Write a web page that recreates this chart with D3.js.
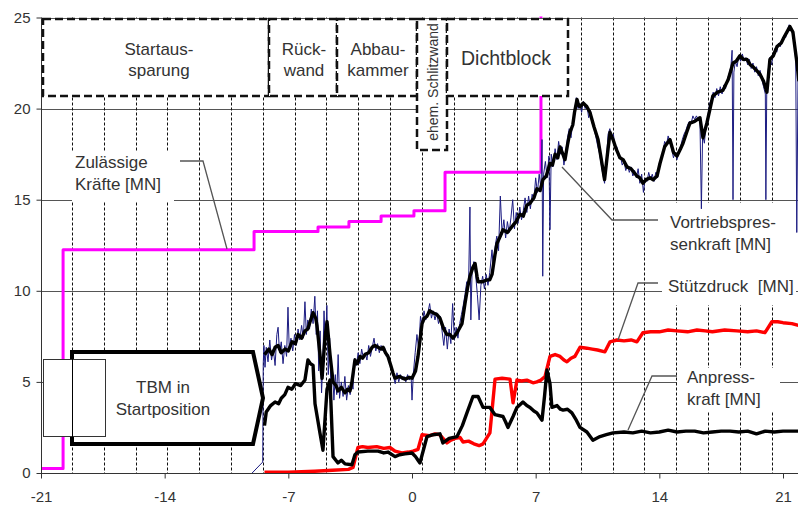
<!DOCTYPE html>
<html>
<head>
<meta charset="utf-8">
<script src="https://cdn.jsdelivr.net/npm/d3@7"></script>
<style>
  body { margin: 0; background: #fff; }
  text { font-family: "Liberation Sans", Arial, sans-serif; fill: #333; }
</style>
</head>
<body>
<svg width="798" height="506"></svg>
<script>
// axis ticks
const xTicks = [-21, -14, -7, 0, 7, 14, 21];
const yTicks = [0, 5, 10, 15, 20, 25];

// ring joints (dashed verticals)
const ringLines = [-19.24, -17.44, -15.64, -13.84, -12.04, -10.24, -8.44, -6.64, -4.84, -3.04,
  -1.24, 0.56, 2.36, 4.16, 5.96, 7.76, 9.56, 11.36, 13.16, 14.96, 16.76, 18.56, 20.36];

// Zulässige Kräfte [MN] (step line)
const allowed = [[-21, 0.25], [-19.75, 12.25], [-8.94, 13.25], [-5.32, 13.5], [-3.57, 13.8],
  [-1.75, 14.1], [0.11, 14.4], [1.87, 16.5], [7.3, 26]];

// Vortriebspressenkraft [MN], smoothed
const thrust = [[-8.35, 6.5], [-8.1, 6.8], [-7.92, 6.5], [-7.75, 6.9], [-7.58, 7.0], [-7.4, 6.6],
  [-7.19, 6.8], [-7.0, 6.7], [-6.79, 7.2], [-6.6, 7.1], [-6.45, 7.6], [-6.25, 7.4], [-6.06, 7.8],
  [-5.9, 7.9], [-5.77, 8.3], [-5.6, 8.8], [-5.45, 8.5], [-5.38, 8.1], [-5.21, 6.5], [-5.09, 5.2],
  [-4.92, 7.5], [-4.81, 8.3], [-4.64, 6.5], [-4.47, 5.0], [-4.3, 4.8], [-4.19, 4.5], [-4.0, 4.7],
  [-3.79, 4.4], [-3.65, 4.6], [-3.51, 4.5], [-3.4, 5.0], [-3.23, 6.2], [-3.1, 6.0], [-2.94, 6.4],
  [-2.8, 6.3], [-2.66, 6.5], [-2.45, 6.6], [-2.26, 6.9], [-2.1, 7.0], [-1.92, 6.9], [-1.75, 6.8],
  [-1.64, 6.9], [-1.5, 6.6], [-1.36, 6.4], [-1.2, 5.9], [-1.08, 5.5], [-0.96, 5.2], [-0.7, 5.3],
  [-0.4, 5.15], [-0.15, 5.25], [0, 5.2], [0.2, 5.6], [0.34, 6.4], [0.57, 8.2], [0.7, 8.5],
  [0.85, 8.6], [1.0, 8.9], [1.19, 8.8], [1.4, 8.7], [1.58, 8.5], [1.8, 7.9], [1.98, 7.6], [2.15, 7.6],
  [2.32, 7.4], [2.55, 7.7], [2.83, 8.2], [3.0, 9.3], [3.15, 10.2], [3.28, 10.8], [3.45, 11.3],
  [3.57, 11.5], [3.68, 10.8], [3.74, 10.5], [4.0, 10.5], [4.24, 10.6], [4.4, 10.6], [4.53, 10.9],
  [4.7, 12.0], [4.81, 12.6], [5.0, 13.0], [5.15, 13.35], [5.4, 13.2], [5.72, 13.6], [5.9, 13.8],
  [6.11, 14.2], [6.3, 14.1], [6.5, 14.7], [6.68, 14.8], [6.9, 15.1], [7.07, 15.6], [7.25, 15.5],
  [7.41, 16.1], [7.6, 16.3], [7.81, 17.0], [7.95, 16.9], [8.1, 17.5], [8.25, 17.3], [8.38, 17.9],
  [8.5, 17.6], [8.66, 17.2], [8.8, 18.0], [8.94, 18.7], [9.1, 19.1], [9.2, 19.8], [9.34, 20.5],
  [9.42, 20.2], [9.51, 20.1], [9.7, 20.3], [9.9, 20.1], [10.07, 19.8], [10.3, 19.0], [10.53, 18.3],
  [10.7, 17.3], [10.9, 16.1], [11.05, 17.4], [11.21, 18.7], [11.38, 18.3], [11.55, 17.8],
  [11.77, 17.3], [11.95, 17.2], [12.17, 16.8], [12.4, 16.7], [12.73, 16.3], [12.9, 16.2],
  [13.07, 15.9], [13.25, 16.1], [13.47, 16.2], [13.65, 16.1], [13.87, 16.3], [14.04, 17.0],
  [14.3, 17.9], [14.6, 18.3], [14.8, 17.6], [15.0, 17.4], [15.2, 17.8], [15.34, 18.1], [15.55, 18.7],
  [15.73, 19.2], [16.0, 19.3], [16.3, 19.5], [16.47, 18.4], [16.69, 19.2], [16.85, 19.9],
  [17.03, 20.7], [17.3, 20.9], [17.6, 21.0], [17.9, 21.6], [18.17, 22.5], [18.35, 22.6],
  [18.56, 22.9], [18.75, 22.7], [18.96, 22.7], [19.15, 22.4], [19.3, 22.3], [19.5, 22.1],
  [19.69, 21.9], [19.9, 21.5], [20.09, 20.9], [20.26, 22.7], [20.45, 22.9], [20.66, 23.4],
  [20.9, 23.6], [21.05, 23.9], [21.22, 24.2], [21.39, 24.5], [21.56, 24.2], [21.79, 22.5],
  [21.9, 21.5]];

// Vortriebspressenkraft [MN], raw readings
const thrustRaw = [[-9.05, 0], [-8.45, 0.6], [-8.42, 6.0], [-8.38, 7.0], [-8.32, 5.8], [-8.25, 6.9],
  [-8.15, 6.1], [-8.05, 7.3], [-7.95, 6.2], [-7.85, 6.8], [-7.75, 5.9], [-7.65, 7.6], [-7.58, 8.0],
  [-7.5, 6.6], [-7.4, 7.2], [-7.3, 6.0], [-7.2, 7.0], [-7.1, 6.4], [-7.02, 9.1], [-6.95, 6.9],
  [-6.85, 7.4], [-6.75, 6.7], [-6.65, 7.6], [-6.55, 7.0], [-6.45, 7.9], [-6.35, 7.3], [-6.25, 8.1],
  [-6.15, 7.4], [-6.06, 9.4], [-5.98, 7.6], [-5.9, 8.4], [-5.8, 7.9], [-5.7, 9.0], [-5.6, 8.2],
  [-5.5, 9.7], [-5.42, 7.6], [-5.35, 8.9], [-5.28, 5.6], [-5.2, 7.8], [-5.12, 4.4], [-5.05, 6.0],
  [-4.98, 8.9], [-4.9, 6.8], [-4.82, 9.2], [-4.74, 5.4], [-4.66, 7.4], [-4.58, 4.2], [-4.5, 5.6],
  [-4.42, 4.0], [-4.34, 5.4], [-4.26, 4.3], [-4.18, 6.5], [-4.1, 4.1], [-4.0, 5.0], [-3.9, 4.2],
  [-3.8, 5.3], [-3.7, 4.0], [-3.6, 4.8], [-3.5, 4.3], [-3.42, 5.1], [-3.34, 4.6], [-3.25, 6.3],
  [-3.15, 5.9], [-3.05, 6.6], [-2.95, 6.0], [-2.85, 6.8], [-2.75, 6.3], [-2.65, 6.6], [-2.55, 6.2],
  [-2.45, 7.0], [-2.35, 6.4], [-2.25, 6.9], [-2.15, 7.4], [-2.05, 6.7], [-1.95, 7.1], [-1.85, 6.6],
  [-1.75, 7.0], [-1.65, 6.7], [-1.55, 6.9], [-1.45, 6.4], [-1.35, 6.5], [-1.25, 6.1], [-1.15, 5.7],
  [-1.05, 5.3], [-0.95, 4.9], [-0.85, 5.5], [-0.75, 5.0], [-0.65, 5.4], [-0.55, 5.1], [-0.45, 5.3],
  [-0.35, 5.0], [-0.25, 5.4], [-0.15, 5.1], [-0.05, 5.3], [0.0, 4.0], [0.08, 5.5], [0.18, 6.6],
  [0.28, 7.6], [0.38, 6.8], [0.48, 8.6], [0.58, 8.1], [0.68, 8.9], [0.78, 8.4], [0.9, 8.8],
  [1.0, 9.3], [1.1, 8.5], [1.2, 8.9], [1.3, 8.4], [1.4, 8.8], [1.5, 8.2], [1.6, 8.6], [1.7, 7.8],
  [1.8, 7.0], [1.9, 8.0], [2.0, 6.8], [2.1, 7.9], [2.2, 7.1], [2.3, 9.3], [2.4, 7.3], [2.5, 8.0],
  [2.6, 7.4], [2.7, 8.2], [2.8, 8.7], [2.9, 9.2], [3.0, 9.8], [3.1, 10.5], [3.2, 10.2], [3.28, 14.6],
  [3.33, 8.4], [3.4, 11.0], [3.5, 11.6], [3.6, 10.9], [3.7, 9.8], [3.8, 8.4], [3.9, 10.3],
  [4.0, 10.8], [4.1, 10.1], [4.2, 10.9], [4.3, 10.3], [4.4, 11.0], [4.53, 12.25], [4.6, 11.2],
  [4.7, 12.4], [4.8, 13.0], [4.9, 12.2], [5.0, 15.2], [5.1, 13.1], [5.2, 13.9], [5.3, 12.9],
  [5.4, 13.8], [5.5, 13.2], [5.6, 14.0], [5.7, 15.0], [5.8, 13.4], [5.9, 14.3], [6.0, 13.7],
  [6.1, 14.6], [6.2, 13.9], [6.3, 14.4], [6.4, 15.1], [6.5, 14.3], [6.6, 15.2], [6.7, 14.5],
  [6.8, 15.3], [6.9, 15.0], [7.0, 16.2], [7.1, 15.4], [7.2, 16.4], [7.3, 15.6], [7.36, 18.3],
  [7.4, 10.8], [7.45, 16.4], [7.55, 17.1], [7.65, 16.2], [7.75, 17.4], [7.81, 13.35], [7.88, 17.5],
  [7.98, 16.8], [8.1, 17.8], [8.2, 17.2], [8.3, 18.2], [8.4, 17.5], [8.5, 17.9], [8.6, 16.9],
  [8.7, 17.6], [8.8, 18.4], [8.9, 18.9], [9.0, 18.4], [9.1, 19.3], [9.2, 19.8], [9.3, 20.6],
  [9.4, 20.0], [9.5, 20.3], [9.6, 19.8], [9.7, 20.4], [9.8, 20.0], [9.9, 20.2], [10.0, 19.5],
  [10.1, 19.9], [10.2, 19.2], [10.3, 18.9], [10.4, 18.5], [10.5, 18.0], [10.6, 17.6], [10.7, 17.0],
  [10.8, 16.4], [10.9, 15.9], [11.0, 17.2], [11.1, 18.6], [11.2, 18.9], [11.3, 18.4], [11.4, 18.6],
  [11.5, 17.8], [11.6, 17.9], [11.7, 17.3], [11.8, 17.4], [11.9, 16.9], [12.0, 17.1], [12.1, 16.6],
  [12.2, 16.9], [12.3, 16.5], [12.4, 16.8], [12.5, 16.3], [12.6, 16.6], [12.7, 16.2], [12.8, 16.7],
  [12.9, 15.9], [13.0, 16.4], [13.1, 15.4], [13.2, 16.2], [13.3, 16.0], [13.4, 16.5], [13.5, 16.1],
  [13.6, 16.4], [13.7, 16.0], [13.8, 16.5], [13.9, 16.2], [14.0, 17.0], [14.1, 17.2], [14.2, 17.6],
  [14.3, 18.2], [14.4, 18.0], [14.5, 18.5], [14.6, 18.1], [14.7, 17.8], [14.8, 17.3], [14.9, 17.6],
  [15.0, 17.2], [15.1, 17.7], [15.2, 17.9], [15.3, 18.3], [15.4, 18.6], [15.5, 18.8], [15.6, 19.1],
  [15.7, 19.3], [15.8, 19.2], [15.9, 19.6], [16.0, 19.4], [16.1, 19.6], [16.2, 19.4], [16.3, 19.3],
  [16.38, 14.5], [16.45, 18.6], [16.55, 18.1], [16.65, 19.2], [16.75, 19.6], [16.85, 20.3],
  [16.95, 20.5], [17.05, 20.9], [17.15, 20.6], [17.25, 21.1], [17.35, 20.7], [17.45, 21.2],
  [17.55, 20.8], [17.65, 21.3], [17.75, 21.1], [17.85, 21.6], [17.95, 21.9], [18.05, 22.3],
  [18.12, 23.2], [18.17, 15.0], [18.22, 22.0], [18.3, 22.6], [18.4, 22.3], [18.5, 22.9],
  [18.6, 22.6], [18.7, 23.0], [18.8, 22.6], [18.9, 22.8], [19.0, 22.4], [19.1, 22.7], [19.2, 22.2],
  [19.3, 22.5], [19.4, 22.0], [19.5, 22.3], [19.6, 21.8], [19.7, 22.1], [19.8, 21.6], [19.9, 21.2],
  [20.0, 20.8], [20.03, 15.0], [20.08, 20.9], [20.15, 22.0], [20.25, 22.8], [20.35, 22.4],
  [20.45, 23.0], [20.55, 23.3], [20.65, 23.1], [20.75, 23.6], [20.85, 23.4], [20.95, 23.8],
  [21.05, 24.0], [21.15, 23.9], [21.25, 24.3], [21.35, 24.6], [21.45, 24.4], [21.55, 24.1],
  [21.65, 23.6], [21.72, 22.6], [21.78, 13.2], [21.85, 21.8]];

// Stützdruck [MN]
const support = [[-8.35, 0.05], [-7, 0.05], [-5.5, 0.1], [-4.5, 0.15], [-3.6, 0.2], [-3.34, 0.3],
  [-3.06, 1.4], [-2.8, 1.45], [-2.5, 1.4], [-2.0, 1.45], [-1.6, 1.35], [-1.25, 1.4], [-0.96, 1.2],
  [-0.57, 1.1], [-0.2, 1.15], [0.06, 1.2], [0.34, 1.3], [0.57, 2.1], [1.0, 2.05], [1.3, 2.15],
  [1.58, 2.1], [1.98, 1.65], [2.2, 1.8], [2.43, 1.9], [2.72, 1.95], [2.89, 1.7], [3.2, 1.75],
  [3.5, 1.6], [3.8, 1.5], [4.02, 1.6], [4.41, 2.2], [4.7, 5.15], [5.1, 5.2], [5.55, 5.15],
  [5.72, 3.85], [5.94, 5.1], [6.2, 5.05], [6.5, 5.1], [6.85, 4.95], [7.07, 5.0], [7.3, 5.1],
  [7.53, 5.3], [7.81, 6.4], [8.1, 6.5], [8.38, 6.4], [8.6, 6.2], [8.77, 6.1], [9.0, 6.3],
  [9.22, 6.4], [9.51, 6.9], [9.9, 6.85], [10.2, 6.8], [10.5, 6.75], [10.92, 6.65], [11.21, 7.2],
  [11.6, 7.3], [12.0, 7.25], [12.4, 7.3], [12.73, 7.2], [13.07, 7.7], [13.5, 7.75], [14.0, 7.75],
  [14.5, 7.85], [15.0, 7.8], [15.6, 7.75], [16.13, 7.85], [16.6, 7.8], [17.0, 7.75], [17.7, 7.85],
  [18.39, 7.8], [19.0, 7.75], [19.5, 7.8], [19.98, 7.7], [20.37, 8.3], [20.7, 8.3], [21.0, 8.25],
  [21.5, 8.2], [21.9, 8.1]];

// Anpresskraft [MN]
const contact = [[-8.35, 2.6], [-8.25, 3.35], [-8.0, 3.7], [-7.75, 3.9], [-7.55, 3.8], [-7.4, 4.1],
  [-7.2, 4.3], [-7.02, 4.7], [-6.8, 4.6], [-6.6, 4.9], [-6.3, 4.8], [-6.06, 5.1], [-5.89, 6.2],
  [-5.75, 6.0], [-5.6, 5.9], [-5.49, 3.8], [-5.21, 2.2], [-5.04, 1.25], [-4.81, 4.6], [-4.64, 5.1],
  [-4.47, 0.9], [-4.19, 0.55], [-4.0, 0.7], [-3.79, 0.5], [-3.4, 0.45], [-3.23, 1.0], [-3.06, 1.15],
  [-2.5, 1.2], [-1.92, 1.2], [-1.6, 1.1], [-1.36, 1.15], [-0.96, 0.9], [-0.7, 1.0], [-0.4, 1.05],
  [0, 1.1], [0.2, 0.9], [0.34, 0.7], [0.45, 0.55], [0.85, 2.0], [1.2, 2.1], [1.58, 2.15],
  [1.75, 1.65], [2.1, 1.9], [2.55, 2.0], [2.85, 2.6], [3.11, 3.3], [3.45, 4.2], [3.74, 4.2],
  [4.02, 3.6], [4.41, 3.6], [4.7, 3.2], [5.15, 3.1], [5.3, 2.8], [5.43, 2.5], [5.72, 3.1],
  [5.94, 3.6], [6.28, 3.9], [6.5, 3.7], [6.68, 3.6], [6.9, 3.4], [7.07, 3.3], [7.36, 2.9],
  [7.5, 4.2], [7.64, 5.65], [7.81, 4.9], [7.92, 3.6], [8.21, 3.7], [8.4, 3.5], [8.55, 3.45],
  [8.8, 3.5], [9.05, 3.3], [9.3, 2.9], [9.51, 2.5], [9.9, 2.25], [10.24, 1.8], [10.64, 2.0],
  [11.0, 2.1], [11.38, 2.2], [12.0, 2.25], [12.5, 2.2], [13.0, 2.3], [13.5, 2.2], [14.0, 2.25],
  [14.5, 2.35], [15.0, 2.25], [15.5, 2.3], [16.0, 2.3], [16.5, 2.2], [17.0, 2.25], [17.5, 2.3],
  [18.0, 2.3], [18.5, 2.25], [19.0, 2.3], [19.5, 2.15], [20.0, 2.3], [20.5, 2.25], [21.0, 2.3],
  [21.9, 2.3]];

const svg = d3.select("svg");
const plotLeft = 41, plotRight = 798, plotTop = 17.5, plotBottom = 473;

const x = d3.scaleLinear().domain([-21, 21]).range([41, 783]);
const y = d3.scaleLinear().domain([0, 25]).range([plotBottom, plotTop]);

svg.append("rect").attr("width", 798).attr("height", 506).attr("fill", "#fff");

svg.append("defs").append("clipPath").attr("id", "plot")
  .append("rect")
  .attr("x", plotLeft).attr("y", plotTop - 1)
  .attr("width", plotRight - plotLeft).attr("height", plotBottom - plotTop + 1);

// horizontal grid
svg.append("g")
  .selectAll("line")
  .data(yTicks.filter((d) => d > 0))
  .join("line")
  .attr("x1", plotLeft).attr("x2", plotRight)
  .attr("y1", (d) => Math.round(y(d)) + 0.5)
  .attr("y2", (d) => Math.round(y(d)) + 0.5)
  .attr("stroke", "#555").attr("stroke-width", 1);

// dashed ring lines
svg.append("g")
  .selectAll("line")
  .data(ringLines)
  .join("line")
  .attr("x1", (d) => Math.round(x(d)) + 0.5)
  .attr("x2", (d) => Math.round(x(d)) + 0.5)
  .attr("y1", plotTop).attr("y2", plotBottom)
  .attr("stroke", "#111").attr("stroke-width", 1)
  .attr("stroke-dasharray", "3,2");

// white patches behind the labels
const labelBg = [[72, 152, 102, 49], [662, 203, 134, 102], [677, 368, 103, 44]];
svg.append("g")
  .selectAll("rect")
  .data(labelBg)
  .join("rect")
  .attr("x", (d) => d[0]).attr("y", (d) => d[1])
  .attr("width", (d) => d[2]).attr("height", (d) => d[3])
  .attr("fill", "#fff");

// data lines
const plot = svg.append("g").attr("clip-path", "url(#plot)");
const line = d3.line().x((d) => x(d[0])).y((d) => y(d[1]));
const stepLine = d3.line().x((d) => x(d[0])).y((d) => y(d[1])).curve(d3.curveStepAfter);

function drawLine(data, gen, color, width) {
  plot.append("path")
    .datum(data)
    .attr("d", gen)
    .attr("fill", "none")
    .attr("stroke", color)
    .attr("stroke-width", width)
    .attr("stroke-linejoin", "round");
}

drawLine(allowed, stepLine, "#ff00ff", 3);
drawLine(thrustRaw, line, "#1c1c82", 1);
drawLine(thrust, line, "#000", 3.4);
drawLine(support, line, "#ff0000", 3.4);
drawLine(contact, line, "#000", 3.4);

// axes
svg.append("line")
  .attr("x1", plotLeft + 0.5).attr("x2", plotLeft + 0.5)
  .attr("y1", plotTop).attr("y2", plotBottom)
  .attr("stroke", "#333");
svg.append("line")
  .attr("x1", plotLeft).attr("x2", plotRight)
  .attr("y1", plotBottom + 0.5).attr("y2", plotBottom + 0.5)
  .attr("stroke", "#333");
svg.append("line")
  .attr("x1", plotLeft).attr("x2", plotRight)
  .attr("y1", Math.round(plotTop) + 0.5).attr("y2", Math.round(plotTop) + 0.5)
  .attr("stroke", "#555");

function styleAxis(g) {
  g.select(".domain").remove();
  g.selectAll("line").attr("stroke", "#333");
  g.selectAll("text")
    .attr("font-size", 15)
    .attr("font-family", '"Liberation Sans", Arial, sans-serif')
    .style("fill", "#333");
}

svg.append("g")
  .attr("transform", `translate(${plotLeft + 0.5},0)`)
  .call(d3.axisLeft(y).tickValues(yTicks).tickSize(5).tickPadding(6))
  .call(styleAxis);

svg.append("g")
  .attr("transform", `translate(0,${plotBottom + 0.5})`)
  .call(d3.axisBottom(x).tickValues(xTicks).tickSize(5).tickPadding(13)
    .tickFormat((d) => String(d)))
  .call(styleAxis);

// zone boxes at the top
const boxes = [
  { x0: 43, x1: 269, y1: 96, lines: ["Startaus-", "sparung"], cx: 159 },
  { x0: 269, x1: 337, y1: 96, lines: ["Rück-", "wand"], cx: 304 },
  { x0: 337, x1: 417, y1: 96, lines: ["Abbau-", "kammer"], cx: 378 },
  { x0: 417, x1: 447, y1: 150, lines: [], cx: 432 },
  { x0: 447, x1: 568, y1: 96, lines: [], cx: 506 },
];
const boxG = svg.append("g");
boxG.selectAll("rect")
  .data(boxes)
  .join("rect")
  .attr("x", (d) => d.x0).attr("y", 19)
  .attr("width", (d) => d.x1 - d.x0).attr("height", (d) => d.y1 - 19)
  .attr("fill", "#fff")
  .attr("stroke", "#111").attr("stroke-width", 2.5)
  .attr("stroke-dasharray", "8,4");

boxes.forEach((b) => {
  b.lines.forEach((t, i) => {
    boxG.append("text")
      .attr("x", b.cx).attr("y", 55 + i * 21)
      .attr("text-anchor", "middle")
      .attr("font-size", 17)
      .text(t);
  });
});
boxG.append("text")
  .attr("x", 506).attr("y", 65)
  .attr("text-anchor", "middle")
  .attr("font-size", 19.5)
  .text("Dichtblock");
boxG.append("text")
  .attr("transform", "translate(438,82) rotate(-90)")
  .attr("text-anchor", "middle")
  .attr("font-size", 14)
  .text("ehem. Schlitzwand");

// TBM in start position
const tbm = svg.append("g");
tbm.append("path")
  .attr("d", "M72,352 L253,352 L263,398 L253,444 L72,444 Z")
  .attr("fill", "#fff").attr("stroke", "#000").attr("stroke-width", 4)
  .attr("stroke-linejoin", "miter");
tbm.append("rect")
  .attr("x", 43.5).attr("y", 359.5).attr("width", 62).attr("height", 77)
  .attr("fill", "#fff").attr("stroke", "#333").attr("stroke-width", 1);
tbm.append("line")
  .attr("x1", 72.5).attr("x2", 72.5).attr("y1", 359).attr("y2", 437)
  .attr("stroke", "#000").attr("stroke-width", 1);
["TBM in", "Startposition"].forEach((t, i) => {
  tbm.append("text")
    .attr("x", 163).attr("y", 393 + i * 22)
    .attr("text-anchor", "middle")
    .attr("font-size", 17)
    .text(t);
});

// series labels with leader lines
const labels = [
  { x: 75, y: 168, lines: ["Zulässige", "Kräfte [MN]"], leader: [[180, 161], [203, 161], [227, 249]] },
  { x: 670, y: 228, lines: ["Vortriebspres-", "senkraft [MN]"], leader: [[562, 167], [612, 220], [658, 220]] },
  { x: 668, y: 292, lines: ["Stützdruck  [MN]"], leader: [[618, 340], [638, 283], [658, 283]] },
  { x: 687, y: 383, lines: ["Anpress-", "kraft [MN]"], leader: [[628, 430], [652, 376], [677, 376]] },
];
const labG = svg.append("g");
labels.forEach((l) => {
  labG.append("path")
    .attr("d", d3.line()(l.leader))
    .attr("fill", "none")
    .attr("stroke", "#555").attr("stroke-width", 1.3);
  l.lines.forEach((t, i) => {
    labG.append("text")
      .attr("x", l.x).attr("y", l.y + i * 22)
      .attr("font-size", 17)
      .style("white-space", "pre")
      .text(t);
  });
});
</script>
</body>
</html>
